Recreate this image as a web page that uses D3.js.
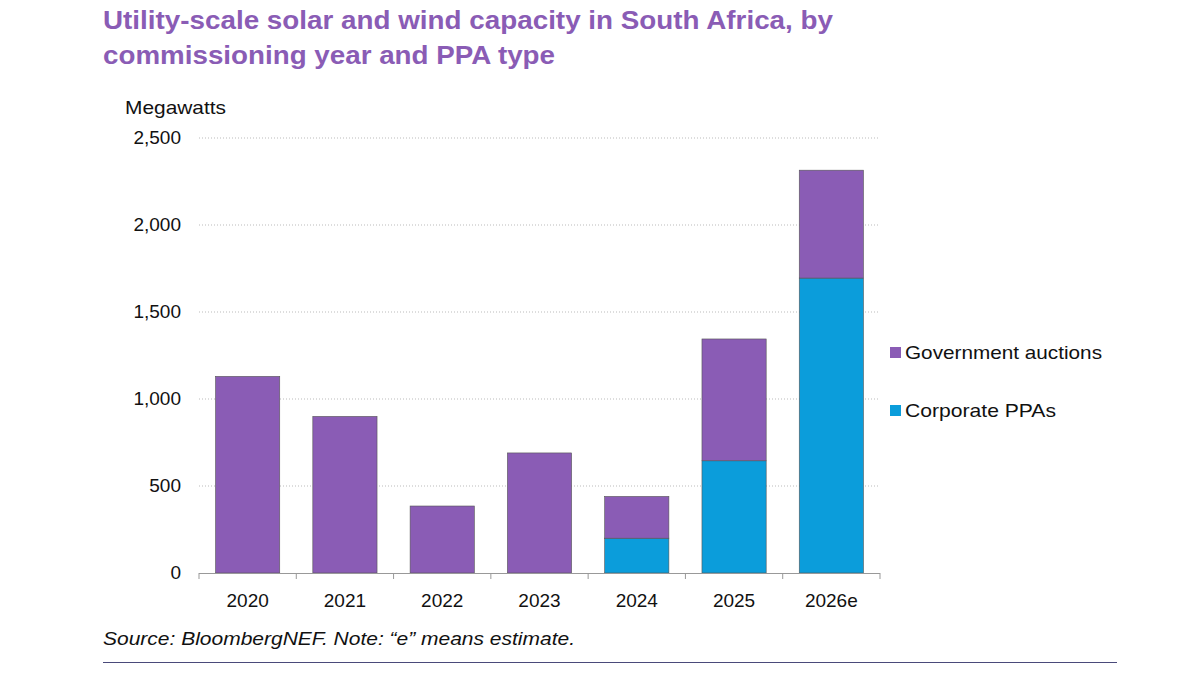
<!DOCTYPE html>
<html><head><meta charset="utf-8">
<script src="https://cdn.jsdelivr.net/npm/d3@7"></script>
<style>body{margin:0;background:#fff;font-family:Arial,"Liberation Sans",sans-serif}</style>
</head><body><svg id="c" width="1200" height="675"></svg>
<script>
const years = ["2020","2021","2022","2023","2024","2025","2026e"];
const corporate = [0,0,0,0,200,645,1695];
const government = [1130,900,385,690,240,700,620];
const yTicks = [0,500,1000,1500,2000,2500];
const colors = {gov:"#8a5cb5", corp:"#0b9ddb"};

const svg = d3.select("#c");
const x = d3.scaleBand().domain(years).range([199,880]).paddingInner(0.34).paddingOuter(0.17);
const y = d3.scaleLinear().domain([0,2500]).range([573,138]);

svg.append("text").attr("x",103).attr("y",29).attr("fill","#8a5cb5").attr("font-size",26).attr("font-weight","bold").attr("textLength",730).attr("lengthAdjust","spacingAndGlyphs").text("Utility-scale solar and wind capacity in South Africa, by");
svg.append("text").attr("x",103).attr("y",64).attr("fill","#8a5cb5").attr("font-size",26).attr("font-weight","bold").attr("textLength",452).attr("lengthAdjust","spacingAndGlyphs").text("commissioning year and PPA type");
svg.append("text").attr("x",125).attr("y",114).attr("font-size",19).attr("fill","#111").attr("textLength",101).attr("lengthAdjust","spacingAndGlyphs").text("Megawatts");

yTicks.forEach(t=>{
  if(t>0) svg.append("line").attr("x1",199).attr("x2",880).attr("y1",y(t)).attr("y2",y(t)).attr("stroke","#bbb").attr("stroke-dasharray","1,2");
  svg.append("text").attr("x",181).attr("y",y(t)+6).attr("text-anchor","end").attr("font-size",19).attr("fill","#111").text(d3.format(",")(t));
});

years.forEach((yr,i)=>{
  const c=corporate[i], g=government[i];
  if(c>0) svg.append("rect").attr("x",x(yr)).attr("width",x.bandwidth()).attr("y",y(c)).attr("height",y(0)-y(c)).attr("fill",colors.corp).attr("stroke","#555").attr("stroke-width",0.6);
  svg.append("rect").attr("x",x(yr)).attr("width",x.bandwidth()).attr("y",y(c+g)).attr("height",y(c)-y(c+g)).attr("fill",colors.gov).attr("stroke","#555").attr("stroke-width",0.6);
  svg.append("text").attr("x",x(yr)+x.bandwidth()/2).attr("y",607).attr("text-anchor","middle").attr("font-size",19).attr("fill","#111").text(yr);
});
svg.append("line").attr("x1",199).attr("x2",880).attr("y1",573.5).attr("y2",573.5).attr("stroke","#999");
x.domain().concat(["end"]).forEach((d,i)=>{
  const xx = 199 + i*(681/7);
  svg.append("line").attr("x1",xx).attr("x2",xx).attr("y1",573).attr("y2",579).attr("stroke","#999");
});

[["Government auctions",colors.gov,353,197],["Corporate PPAs",colors.corp,411,151]].forEach(([t,c,yy,w])=>{
  svg.append("rect").attr("x",890).attr("y",yy-6).attr("width",11).attr("height",11).attr("fill",c);
  svg.append("text").attr("x",905).attr("y",yy+6).attr("font-size",19).attr("fill","#111").attr("textLength",w).attr("lengthAdjust","spacingAndGlyphs").text(t);
});

svg.append("text").attr("x",103).attr("y",645).attr("font-size",19).attr("font-style","italic").attr("fill","#111").attr("textLength",472).attr("lengthAdjust","spacingAndGlyphs").text("Source: BloombergNEF. Note: \u201ce\u201d means estimate.");
svg.append("line").attr("x1",103).attr("x2",1117).attr("y1",662.5).attr("y2",662.5).attr("stroke","#4a4a7a");
</script></body></html>
